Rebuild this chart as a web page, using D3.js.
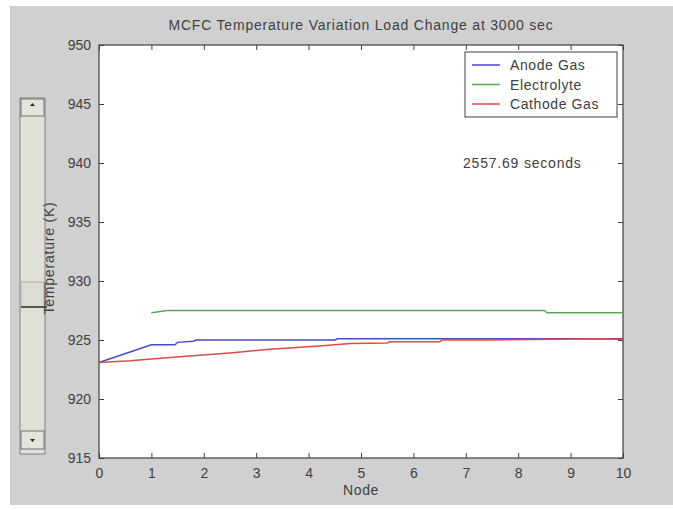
<!DOCTYPE html>
<html>
<head>
<meta charset="utf-8">
<script src="https://cdn.jsdelivr.net/npm/d3@7"></script>
<style>
  body { margin: 0; background: #fff; }
  text { font-family: "Liberation Sans", Arial, sans-serif; fill: #404040; }
</style>
</head>
<body>
<svg width="673" height="510"></svg>
<script>
// node positions and temperatures (K)
var anodeNode = [0, 1, 1.45, 1.5, 1.8, 1.85, 4.5, 4.55, 10];
var anodeTemp = [923.1, 924.6, 924.6, 924.8, 924.9, 925.0, 925.0, 925.1, 925.1];

var electrolyteNode = [1, 1.3, 8.5, 8.55, 10];
var electrolyteTemp = [927.3, 927.5, 927.5, 927.3, 927.3];

var cathodeNode = [0, 0.6, 1, 1.6, 2.5, 3.2, 4.2, 4.8, 5.5, 5.55, 6.5, 6.55, 7.5, 9.6, 10];
var cathodeTemp = [923.1, 923.25, 923.4, 923.6, 923.9, 924.2, 924.5, 924.7, 924.75, 924.85, 924.85, 925.0, 925.0, 925.1, 925.05];

var seriesNames = ["Anode Gas", "Electrolyte", "Cathode Gas"];
var seriesColors = ["#4a4ac4", "#55a855", "#dc4a4a"];
var xTicks = [0, 1, 2, 3, 4, 5, 6, 7, 8, 9, 10];
var yTicks = [915, 920, 925, 930, 935, 940, 945, 950];

var svg = d3.select("svg");

// figure background
svg.append("rect").attr("x", 10).attr("y", 6).attr("width", 663).attr("height", 499).attr("fill", "#d0d0d0");

// slider on the left
var sl = svg.append("g");
sl.append("rect").attr("x", 20).attr("y", 98).attr("width", 25).attr("height", 356)
   .attr("fill", "#e0e0d8").attr("stroke", "#808080");
sl.append("rect").attr("x", 21).attr("y", 99).attr("width", 23).attr("height", 17)
   .attr("fill", "#e4e4dc").attr("stroke", "#707070");
sl.append("rect").attr("x", 21).attr("y", 431).attr("width", 23).attr("height", 18)
   .attr("fill", "#e4e4dc").attr("stroke", "#707070");
sl.append("path").attr("d", "M30,106 L35,106 L32.5,103 Z").attr("fill", "#222");
sl.append("path").attr("d", "M30,439 L35,439 L32.5,442 Z").attr("fill", "#222");
sl.append("rect").attr("x", 21).attr("y", 282).attr("width", 23).attr("height", 25)
   .attr("fill", "#dcdcd4").attr("stroke", "#b0b0b0");
sl.append("line").attr("x1", 21).attr("x2", 47).attr("y1", 307).attr("y2", 307)
   .attr("stroke", "#303030").attr("stroke-width", 1.5);
sl.append("line").attr("x1", 45).attr("x2", 45).attr("y1", 282).attr("y2", 307)
   .attr("stroke", "#404040");

var m = { left: 99, right: 623, top: 45, bottom: 458 };

var x = d3.scaleLinear().domain([0, 10]).range([m.left, m.right]);
var y = d3.scaleLinear().domain([915, 950]).range([m.bottom, m.top]);

svg.append("rect").attr("x", m.left).attr("y", m.top)
   .attr("width", m.right - m.left).attr("height", m.bottom - m.top).attr("fill", "#fff");

// axes with inside ticks (box style)
function styleAxis(g) {
   g.select(".domain").remove();
   g.selectAll(".tick line").attr("stroke", "#404040");
   g.selectAll(".tick text").attr("font-size", 14).attr("fill", "#404040")
      .style("font-family", "'Liberation Sans', Arial, sans-serif");
}

svg.append("g").attr("transform", "translate(0," + m.bottom + ")")
   .call(d3.axisBottom(x).tickValues(xTicks).tickFormat(d3.format("d")).tickSizeInner(-5).tickPadding(10))
   .call(styleAxis);
svg.append("g").attr("transform", "translate(0," + m.top + ")")
   .call(d3.axisTop(x).tickValues(xTicks).tickFormat("").tickSizeInner(-5))
   .call(styleAxis);
svg.append("g").attr("transform", "translate(" + m.left + ",0)")
   .call(d3.axisLeft(y).tickValues(yTicks).tickFormat(d3.format("d")).tickSizeInner(-5).tickPadding(8))
   .call(styleAxis);
svg.append("g").attr("transform", "translate(" + m.right + ",0)")
   .call(d3.axisRight(y).tickValues(yTicks).tickFormat("").tickSizeInner(-5))
   .call(styleAxis);

svg.append("rect").attr("x", m.left).attr("y", m.top)
   .attr("width", m.right - m.left).attr("height", m.bottom - m.top)
   .attr("fill", "none").attr("stroke", "#404040").attr("stroke-width", 1.2);

// lines
var line = d3.line().x(function(d) { return x(d[0]); }).y(function(d) { return y(d[1]); });
var series = [
   d3.zip(anodeNode, anodeTemp),
   d3.zip(electrolyteNode, electrolyteTemp),
   d3.zip(cathodeNode, cathodeTemp)
];
// electrolyte first, then anode, cathode on top
[1, 0, 2].forEach(function(i) {
   svg.append("path").datum(series[i]).attr("d", line)
      .attr("fill", "none").attr("stroke", seriesColors[i]).attr("stroke-width", 1.5);
});

// legend
var lg = svg.append("g");
lg.append("rect").attr("x", 465).attr("y", 52).attr("width", 152).attr("height", 65)
   .attr("fill", "#fff").attr("stroke", "#404040");
seriesNames.forEach(function(name, i) {
   var ly = 65 + i * 19.5;
   lg.append("line").attr("x1", 472).attr("x2", 500).attr("y1", ly).attr("y2", ly)
      .attr("stroke", seriesColors[i]).attr("stroke-width", 1.5);
   lg.append("text").attr("x", 510).attr("y", ly + 5).attr("font-size", 14)
      .attr("letter-spacing", 0.6).text(name);
});

// texts
svg.append("text").attr("x", (m.left + m.right) / 2).attr("y", 30).attr("text-anchor", "middle")
   .attr("font-size", 14).attr("letter-spacing", 0.8)
   .text("MCFC Temperature Variation Load Change at 3000 sec");
svg.append("text").attr("x", 463).attr("y", 168).attr("font-size", 14).attr("letter-spacing", 0.8)
   .text("2557.69 seconds");
svg.append("text").attr("x", (m.left + m.right) / 2).attr("y", 495).attr("text-anchor", "middle")
   .attr("font-size", 14).attr("letter-spacing", 0.6).text("Node");
svg.append("text").attr("transform", "translate(54,258) rotate(-90)").attr("text-anchor", "middle")
   .attr("font-size", 14).attr("letter-spacing", 0.8).text("Temperature (K)");
</script>
</body>
</html>
